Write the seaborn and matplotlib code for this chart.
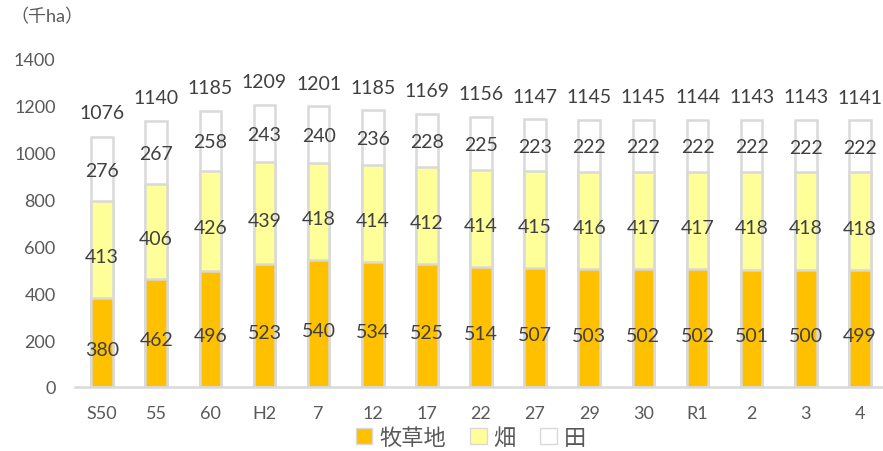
import numpy as np
import pandas as pd
import matplotlib.pyplot as plt
import seaborn as sns
from matplotlib.patches import Patch

# data (千ha)
years = ['S50', '55', '60', 'H2', '7', '12', '17', '22', '27', '29', '30', 'R1', '2', '3', '4']
pasture = [380, 462, 496, 523, 540, 534, 525, 514, 507, 503, 502, 502, 501, 500, 499]  # 牧草地
upland = [413, 406, 426, 439, 418, 414, 412, 414, 415, 416, 417, 417, 418, 418, 418]   # 畑
paddy = [276, 267, 258, 243, 240, 236, 228, 225, 223, 222, 222, 222, 222, 222, 222]    # 田
totals = [1076, 1140, 1185, 1209, 1201, 1185, 1169, 1156, 1147, 1145, 1145, 1144, 1143, 1143, 1141]

sns.set_style('white')
plt.rcParams['font.family'] = ['Lato', 'Noto Sans CJK JP', 'DejaVu Sans']

df = pd.DataFrame({'year': years, 'pasture': pasture, 'upland': upland, 'paddy': paddy})
df['lvl2'] = df['pasture'] + df['upland']
df['lvl3'] = df['lvl2'] + df['paddy']

fig = plt.figure(figsize=(8.83, 4.52), dpi=100)
ax = fig.add_axes([75 / 883, 1 - 388 / 452, 812 / 883, 328 / 452])

edge = '#D9D9D9'
common = dict(x='year', order=years, width=0.4, edgecolor=edge, linewidth=1.8, ax=ax)
sns.barplot(data=df, y='lvl3', color='white', saturation=1, **common)
sns.barplot(data=df, y='lvl2', color='#FFFF99', saturation=1, **common)
sns.barplot(data=df, y='pasture', color='#FFC000', saturation=1, **common)

lab = '#404040'
for i in range(len(years)):
    ax.text(i, pasture[i] / 2 - 30, str(pasture[i]), ha='center', va='center', fontsize=14, color=lab)
    ax.text(i, pasture[i] + upland[i] / 2 - 30, str(upland[i]), ha='center', va='center', fontsize=14, color=lab)
    ax.text(i, pasture[i] + upland[i] + paddy[i] / 2 - 5, str(paddy[i]), ha='center', va='center', fontsize=14, color=lab)
    ax.text(i, totals[i] + 95, str(totals[i]), ha='center', va='center', fontsize=14, color=lab)

ax.set_ylim(0, 1400)
ax.set_xlim(-0.5, len(years) - 0.5)
ax.set_yticks(range(0, 1401, 200))
ax.set_xlabel('')
ax.set_ylabel('')
ax.tick_params(axis='both', length=0, labelsize=13, labelcolor='#595959')
ax.tick_params(axis='x', pad=13)
ax.tick_params(axis='y', pad=14)
for s in ['top', 'right', 'left']:
    ax.spines[s].set_visible(False)
ax.spines['bottom'].set_color(edge)
ax.spines['bottom'].set_linewidth(1.8)

fig.text(0.012, 0.963, '（千ha）', fontsize=13, color='#595959', va='center', ha='left')

handles = [Patch(facecolor='#FFC000', edgecolor=edge, label='牧草地'),
           Patch(facecolor='#FFFF99', edgecolor=edge, label='畑'),
           Patch(facecolor='white', edgecolor=edge, label='田')]
leg = fig.legend(handles=handles, loc='center', bbox_to_anchor=(0.533, 0.03), ncol=3, frameon=False,
                 fontsize=16, handlelength=0.75, handleheight=0.75, handletextpad=0.3, columnspacing=1.1)
for t in leg.get_texts():
    t.set_color('#595959')

fig.savefig('out.png', dpi=100)
